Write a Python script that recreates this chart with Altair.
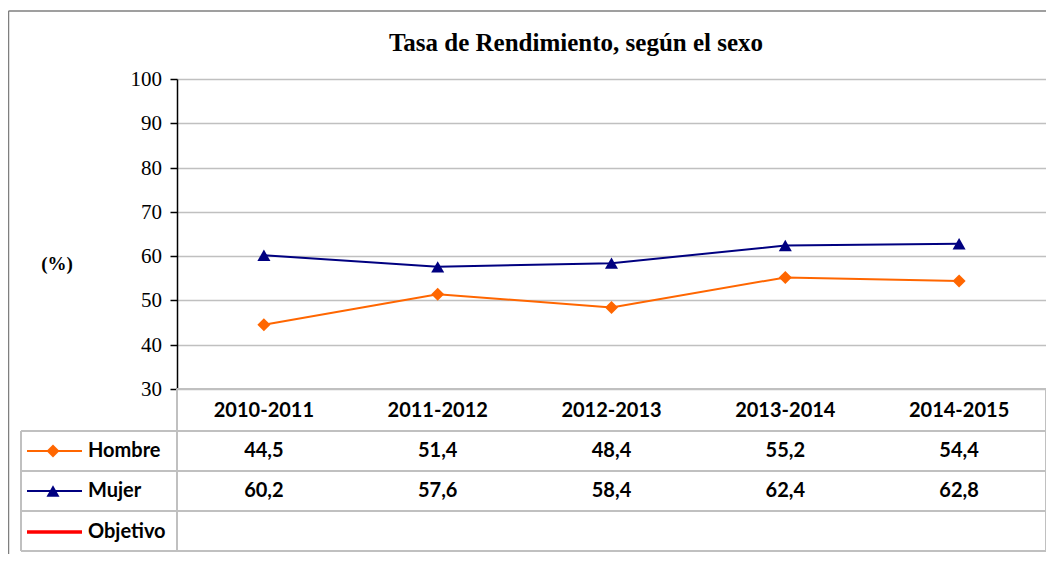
import altair as alt
import pandas as pd

# ---- data ----
periods = ["2010-2011", "2011-2012", "2012-2013", "2013-2014", "2014-2015"]
hombre = [44.5, 51.4, 48.4, 55.2, 54.4]
mujer = [60.2, 57.6, 58.4, 62.4, 62.8]
series_names = ["Hombre", "Mujer", "Objetivo"]
series_colors = ["#FF6600", "#000080", "#FF0000"]
series_shapes = ["diamond", "triangle-up"]
y_ticks = [30, 40, 50, 60, 70, 80, 90, 100]
title_text = "Tasa de Rendimiento, según el sexo"
y_label = "(%)"

rows = []
for p, h, m in zip(periods, hombre, mujer):
    rows.append({"period": p, "series": "Hombre", "value": h,
                 "label": f"{h:.1f}".replace(".", ",")})
    rows.append({"period": p, "series": "Mujer", "value": m,
                 "label": f"{m:.1f}".replace(".", ",")})
df = pd.DataFrame(rows)
one = pd.DataFrame({"k": [0]})

W, H = 869, 310
GRID = "#c0c0c0"
SERIF = "Liberation Serif"
SANS = "Lato"
TXT = 20

x_enc = alt.X("period:N", scale=alt.Scale(type="point", domain=periods, padding=0.5), axis=None)
y_scale = alt.Scale(domain=[30, 100], nice=False, zero=False)
y_axis = alt.Axis(
    values=y_ticks, grid=True, title=None, labels=False,
    gridColor=GRID, gridWidth=1.5,
    domainColor="black", domainWidth=1.5, tickColor="black", tickSize=7,
    tickWidth=1.5,
)
color_scale = alt.Scale(domain=series_names[:2], range=series_colors[:2])
shape_scale = alt.Scale(domain=series_names[:2], range=series_shapes)

base = alt.Chart(df)

lines = base.mark_line(strokeWidth=2).encode(
    x=x_enc, y=alt.Y("value:Q", scale=y_scale, axis=y_axis),
    color=alt.Color("series:N", scale=color_scale, legend=None),
)
points = base.mark_point(filled=True, opacity=1, size=170).encode(
    x=x_enc, y=alt.Y("value:Q", scale=y_scale, axis=y_axis),
    color=alt.Color("series:N", scale=color_scale, legend=None),
    shape=alt.Shape("series:N", scale=shape_scale, legend=None),
)

# y tick labels (serif), positioned by the y scale
tick_labels = alt.Chart(pd.DataFrame({"t": y_ticks})).mark_text(
    font=SERIF, fontSize=21, align="right", baseline="middle", color="black", dy=1
).encode(x=alt.value(-15), y=alt.Y("t:Q", scale=y_scale, axis=y_axis), text="t:Q")


def hrule(y, x1, x2, color=GRID, w=2):
    return alt.Chart(one).mark_rule(color=color, strokeWidth=w).encode(
        x=alt.value(x1), x2=alt.value(x2), y=alt.value(y))


def vrule(x, y1, y2, color=GRID, w=2):
    return alt.Chart(one).mark_rule(color=color, strokeWidth=w).encode(
        x=alt.value(x), y=alt.value(y1), y2=alt.value(y2))


def label(text, x, y, font=SANS, size=TXT, weight="bold", align="left"):
    return alt.Chart(one).mark_text(font=font, fontSize=size, fontWeight=weight,
                                    align=align, baseline="middle", color="black").encode(
        x=alt.value(x), y=alt.value(y), text=alt.value(text))


# table grid
table_lines = [
    hrule(H, 0, W),
    vrule(0, H, 472),
    vrule(W, H, 472),
    hrule(352, -156, W),
    hrule(392, -156, W),
    hrule(432, -156, W),
    hrule(472, -156, W),
    vrule(-156, 352, 472),
]

header = alt.Chart(pd.DataFrame({"period": periods})).mark_text(
    font=SANS, fontSize=TXT, fontWeight="bold", baseline="middle", color="black"
).encode(x=x_enc, y=alt.value(332), text="period:N")

row_y = {"Hombre": 372, "Mujer": 412, "Objetivo": 453}

value_rows = [
    base.transform_filter(alt.datum.series == s).mark_text(
        font=SANS, fontSize=TXT, fontWeight="bold", baseline="middle", color="black"
    ).encode(x=x_enc, y=alt.value(row_y[s]), text="label:N")
    for s in series_names[:2]
]

legend_items = []
for i, s in enumerate(series_names):
    yy = row_y[s]
    w = 2 if i < 2 else 3.5
    legend_items.append(hrule(yy, -150, -95, color=series_colors[i], w=w))
    if i < 2:
        legend_items.append(
            alt.Chart(one).mark_point(filled=True, opacity=1, size=170,
                                      shape=series_shapes[i], color=series_colors[i]).encode(
                x=alt.value(-124), y=alt.value(yy)))
    legend_items.append(label(s, -89, yy))

title = label(title_text, 399, -36, font=SERIF, size=25, align="center")
ylab = label(y_label, -120, 185, font=SERIF, size=19, align="center")

border = [
    hrule(-68, -168.5, W, color="#7f7f7f", w=1.5),
    vrule(-168.5, -68, 480, color="#7f7f7f", w=1.5),
]

chart = alt.layer(
    lines, points, tick_labels, *table_lines, header, *value_rows,
    *legend_items, title, ylab, *border,
).properties(
    width=W, height=H,
    autosize=alt.AutoSizeParams(type="none"),
    padding={"left": 169, "top": 71, "right": 0, "bottom": 165},
).configure_view(stroke=None)

chart.save("out.html", embed_options={"renderer": "svg", "actions": False})
